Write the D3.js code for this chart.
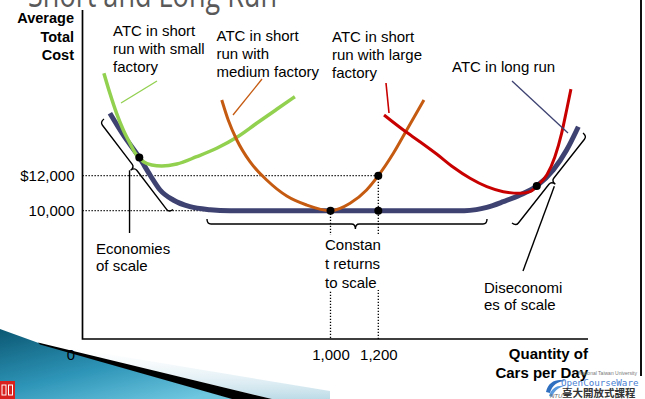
<!DOCTYPE html>
<html><head><meta charset="utf-8">
<script src="https://cdn.jsdelivr.net/npm/d3@7"></script>
<style>
html,body{margin:0;padding:0;background:#fff;}
svg{display:block;font-family:"Liberation Sans",Arial,sans-serif;}
</style></head><body>
<svg id="chart" width="645" height="399"></svg>
<script>
// Quantity of cars per day and average total cost ($) for each cost curve
const smallQty   = [52, 77, 105, 133, 161, 189, 200, 217, 252, 294, 357, 440, 524, 608, 691, 775, 851];
const smallCost  = [17850, 16710, 15565, 14611, 13851, 13183, 13040, 12800, 12611, 12554, 12669, 13086, 13566, 14194, 14994, 15794, 16514];

const mediumQty  = [545, 572, 608, 663, 733, 817, 900, 1000, 1082, 1151, 1200, 1263, 1319, 1391];
const mediumCost = [16325, 15183, 14040, 12800, 11754, 10840, 10326, 10000, 10423, 11183, 12000, 13280, 14611, 16325];

const largeQty   = [1224, 1305, 1374, 1444, 1514, 1584, 1654, 1723, 1793, 1835, 1863, 1905, 1939, 1967, 1988, 2006];
const largeCost  = [15468, 14611, 13943, 13240, 12480, 11851, 11371, 11086, 10994, 11086, 11411, 12040, 13086, 14423, 15754, 16950];

const longQty    = [77, 133, 200, 245, 287, 342, 412, 496, 580, 1560, 1610, 1654, 1723, 1793, 1863, 1932, 1988, 2037];
const longCost   = [15565, 14326, 13040, 12040, 11183, 10611, 10229, 10057, 10000, 10000, 10060, 10190, 10514, 10897, 11411, 12326, 13468, 14800];

// Marked points: tangencies and the medium-factory minimum
const pointQty   = [200, 1000, 1200, 1200, 1863];
const pointCost  = [13040, 10000, 10000, 12000, 11411];

// Tick labels
const yTickValues = [12000, 10000];
const yTickLabels = ["$12,000", "10,000"];
const xTickValues = [1000, 1200];
const xTickLabels = ["1,000", "1,200"];

const svg = d3.select("#chart");

// Frame of the plot area
const frame = {left: 82.5, right: 588, top: 10, bottom: 339};

const x = d3.scaleLinear().domain([1000, 1200]).range([330.5, 378.3]);
const y = d3.scaleLinear().domain([10000, 12000]).range([210.7, 175.7]);

// ---- slide decoration (bottom-left ribbon) ----
const defs = svg.append("defs");
const g1 = defs.append("linearGradient").attr("id", "ribbon").attr("x1", 0).attr("y1", 0).attr("x2", 0.8).attr("y2", 1);
g1.append("stop").attr("offset", 0).attr("stop-color", "#0b5873");
g1.append("stop").attr("offset", 0.55).attr("stop-color", "#2e95b8");
g1.append("stop").attr("offset", 1).attr("stop-color", "#6ec6df");
const g2 = defs.append("linearGradient").attr("id", "haze").attr("x1", 0).attr("y1", 1).attr("x2", 0).attr("y2", 0);
g2.append("stop").attr("offset", 0).attr("stop-color", "#bcdbe7");
g2.append("stop").attr("offset", 1).attr("stop-color", "#ffffff").attr("stop-opacity", 0);

const deco = svg.append("g");
deco.append("polygon").attr("points", "38,342.5 330,391 330,399 272,399").attr("fill", "url(#haze)");
deco.append("polygon").attr("points", "0,329 40,343.5 234,399 0,399").attr("fill", "url(#ribbon)");
deco.append("polygon").attr("points", "38,342.5 272,399 232,399 40,344.5").attr("fill", "#000");
deco.append("rect").attr("x", 0).attr("y", 381).attr("width", 15).attr("height", 18).attr("fill", "#d8201c");
deco.append("rect").attr("x", 2).attr("y", 385).attr("width", 4).attr("height", 10).attr("fill", "none").attr("stroke", "#fff").attr("stroke-width", 1);
deco.append("rect").attr("x", 8.5).attr("y", 385).attr("width", 4).attr("height", 10).attr("fill", "none").attr("stroke", "#fff").attr("stroke-width", 1);

// right edge of the slide
svg.append("line").attr("x1", 641).attr("x2", 641).attr("y1", 0).attr("y2", 376)
  .attr("stroke", "#111").attr("stroke-width", 2);

// Title (runs off the top edge)
svg.append("text").attr("x", 28).attr("y", 6.5).attr("font-size", 34)
  .attr("font-family", "'Open Sans', 'Liberation Sans', sans-serif")
  .attr("textLength", 249).attr("lengthAdjust", "spacingAndGlyphs")
  .attr("fill", "#595959").text("Short and Long Run");

// ---- axes ----
svg.append("path")
  .attr("d", `M${frame.left},${frame.top}V${frame.bottom}H${frame.right}`)
  .attr("fill", "none").attr("stroke", "#000").attr("stroke-width", 1.7);

const yAxis = svg.append("g").attr("transform", `translate(${frame.left},0)`)
  .call(d3.axisLeft(y).tickValues(yTickValues).tickSize(0).tickPadding(8)
    .tickFormat((d, i) => yTickLabels[i]));
yAxis.select(".domain").remove();
yAxis.selectAll("text").attr("font-size", 15).attr("font-family", "'Liberation Sans', Arial, sans-serif").attr("fill", "#000");

const xAxis = svg.append("g").attr("transform", `translate(0,${frame.bottom})`)
  .call(d3.axisBottom(x).tickValues(xTickValues).tickSize(0).tickPadding(10.5)
    .tickFormat((d, i) => xTickLabels[i]));
xAxis.select(".domain").remove();
xAxis.selectAll("text").attr("font-size", 15).attr("font-family", "'Liberation Sans', Arial, sans-serif").attr("fill", "#000");

svg.append("text").attr("x", 71).attr("y", 360).attr("text-anchor", "middle")
  .attr("font-size", 15).text("0");

function multiline(lines, px, baselines, opts = {}) {
  const t = svg.append("text").attr("font-size", opts.size || 15)
    .attr("font-weight", opts.bold ? "bold" : "normal")
    .attr("text-anchor", opts.anchor || "start").attr("fill", "#000");
  lines.forEach((s, i) => t.append("tspan").attr("x", px).attr("y", baselines[i]).text(s));
  return t;
}
multiline(["Average", "Total", "Cost"], 74, [23, 41.5, 60], {bold: true, anchor: "end", size: 14.5});
multiline(["Quantity of", "Cars per Day"], 588, [359, 378], {bold: true, anchor: "end", size: 15});

// ---- dotted guides ----
const guides = svg.append("g").attr("stroke", "#000").attr("stroke-width", 1.3)
  .attr("stroke-dasharray", "1.3,1.7").attr("fill", "none");
guides.append("line").attr("x1", frame.left).attr("x2", x(1200)).attr("y1", y(12000)).attr("y2", y(12000));
guides.append("line").attr("x1", frame.left).attr("x2", x(1000)).attr("y1", y(10000)).attr("y2", y(10000));
guides.append("line").attr("x1", x(1000)).attr("x2", x(1000)).attr("y1", y(10000)).attr("y2", frame.bottom);
guides.append("line").attr("x1", x(1200)).attr("x2", x(1200)).attr("y1", y(12000)).attr("y2", frame.bottom);

// ---- cost curves ----
const line = d3.line().x(d => x(d[0])).y(d => y(d[1])).curve(d3.curveMonotoneX);
const zip = (a, b) => a.map((v, i) => [v, b[i]]);

svg.append("path").attr("d", line(zip(longQty, longCost)))
  .attr("fill", "none").attr("stroke", "#3d4271").attr("stroke-width", 5).attr("stroke-linecap", "butt");
svg.append("path").attr("d", line(zip(smallQty, smallCost)))
  .attr("fill", "none").attr("stroke", "#92d050").attr("stroke-width", 3.5);
svg.append("path").attr("d", line(zip(mediumQty, mediumCost)))
  .attr("fill", "none").attr("stroke", "#c55a11").attr("stroke-width", 3);
svg.append("path").attr("d", line(zip(largeQty, largeCost)))
  .attr("fill", "none").attr("stroke", "#c80000").attr("stroke-width", 3);

svg.selectAll("circle.pt").data(zip(pointQty, pointCost)).join("circle")
  .attr("class", "pt").attr("cx", d => x(d[0])).attr("cy", d => y(d[1])).attr("r", 4).attr("fill", "#000");

// ---- braces and pointers ----
function brace(ax, ay, bx, by, h, f) {
  const len = Math.hypot(bx - ax, by - ay);
  const ux = (bx - ax) / len, uy = (by - ay) / len;
  const nx = -uy, ny = ux, r = 4, m = len * f;
  const p = (t, k) => `${ax + ux * t + nx * k},${ay + uy * t + ny * k}`;
  return {
    d: `M${p(0, 0)}Q${p(0, h)} ${p(r, h)}L${p(m - r, h)}Q${p(m, h)} ${p(m, 2 * h)}` +
       `Q${p(m, h)} ${p(m + r, h)}L${p(len - r, h)}Q${p(len, h)} ${p(len, 0)}`,
    tip: [ax + ux * m + nx * 2 * h, ay + uy * m + ny * 2 * h]
  };
}
const ann = svg.append("g").attr("fill", "none").attr("stroke", "#000").attr("stroke-width", 1.4);
const bEco = brace(104, 119, 173, 209.5, 5, 0.5);
ann.append("path").attr("d", bEco.d);
ann.append("line").attr("x1", bEco.tip[0] - 1).attr("y1", bEco.tip[1]).attr("x2", bEco.tip[0] - 1).attr("y2", 233);
const bCon = brace(207, 219, 487, 219, 5, 0.53);
ann.append("path").attr("d", bCon.d);
const bDis = brace(512, 223, 583, 133, 5, 0.5);
ann.append("path").attr("d", bDis.d);
ann.append("line").attr("x1", bDis.tip[0] - 1).attr("y1", bDis.tip[1] + 2).attr("x2", 523).attr("y2", 271);

// curve callouts
svg.append("line").attr("x1", 157).attr("y1", 81).attr("x2", 121).attr("y2", 103).attr("stroke", "#92d050").attr("stroke-width", 1.3);
svg.append("line").attr("x1", 262).attr("y1", 79).attr("x2", 233).attr("y2", 115).attr("stroke", "#c55a11").attr("stroke-width", 1.3);
svg.append("line").attr("x1", 386).attr("y1", 83).attr("x2", 389).attr("y2", 113).attr("stroke", "#c80000").attr("stroke-width", 1.6);
svg.append("line").attr("x1", 512).attr("y1", 81).attr("x2", 568).attr("y2", 133).attr("stroke", "#3d4271").attr("stroke-width", 1.3);

// ---- labels ----
multiline(["ATC in short", "run with small", "factory"], 113, [36, 54, 72]);
multiline(["ATC in short", "run with", "medium factory"], 216.5, [40.5, 58.5, 76.5]);
multiline(["ATC in short", "run with large", "factory"], 332, [42, 60, 78]);
multiline(["ATC in long run"], 452, [72]);
multiline(["Economies", "of scale"], 96, [253.5, 271]);
svg.append("rect").attr("x", 323).attr("y", 235).attr("width", 61).attr("height", 55).attr("fill", "#fff");
multiline(["Constan", "t returns", "to scale"], 325, [250, 268.8, 287.5]);
multiline(["Diseconomi", "es of scale"], 484, [292.5, 310]);

// ---- course logo ----
const logo = svg.append("g");
logo.append("path").attr("d", "M546,392 C548,381 558,378 566,381 C558,381 552,385 550,393 Z").attr("fill", "#2f6fc0");
logo.append("path").attr("d", "M549,396 C551,388 558,385 564,386 C558,388 554,391 552,397 Z").attr("fill", "#5a9be0");
logo.append("text").attr("x", 637).attr("y", 375).attr("text-anchor", "end").attr("font-size", 5)
  .attr("fill", "#777").text("National Taiwan University");
logo.append("text").attr("x", 561).attr("y", 385.5).attr("font-size", 9.2)
  .attr("font-family", "'DejaVu Sans Mono', monospace").attr("fill", "#4a80d2").text("OpenCourseWare");
logo.append("text").attr("x", 550).attr("y", 398).attr("font-size", 6).attr("font-style", "italic")
  .attr("fill", "#666").text("NTU");
logo.append("text").attr("x", 562).attr("y", 397).attr("font-size", 10.5).attr("font-weight", "bold")
  .attr("font-family", "'Noto Sans CJK TC', sans-serif").attr("fill", "#333").text("臺大開放式課程");
</script>
</body></html>
